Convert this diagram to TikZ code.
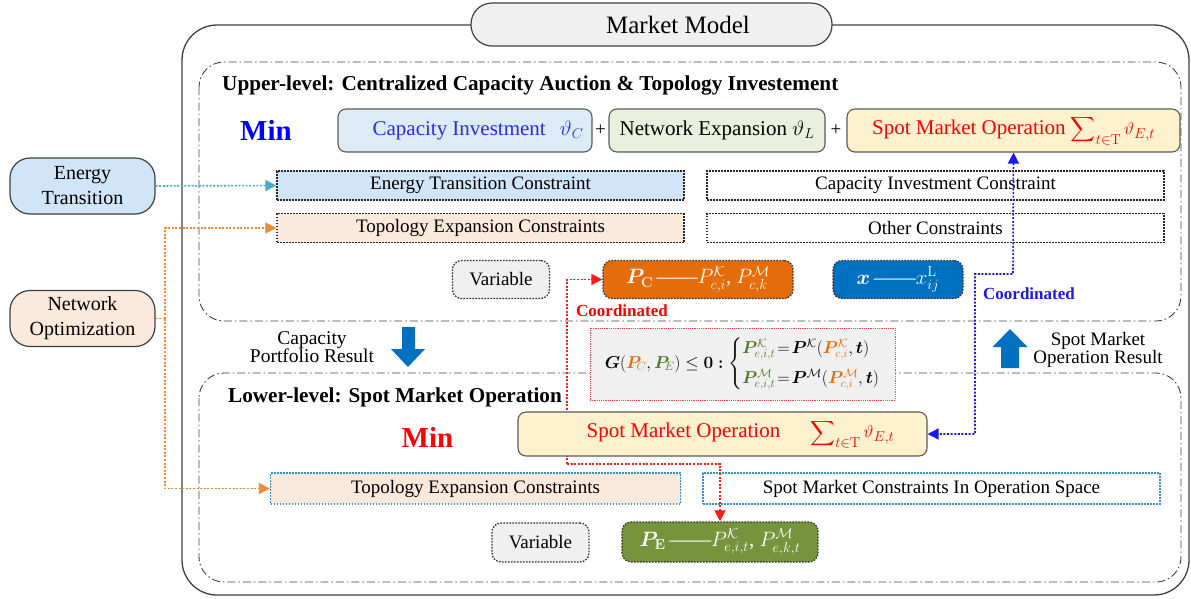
\documentclass[tikz,border=0pt]{standalone}
\usepackage{amsmath}
\usepackage[no-math]{fontspec}
\setmainfont{Liberation Serif}
\usepackage{bm}
\usetikzlibrary{arrows.meta}

\definecolor{capfill}{HTML}{DCEBF4}
\definecolor{netfill}{HTML}{EBEFDD}
\definecolor{spotfill}{HTML}{FEF1CE}
\definecolor{etfill}{HTML}{D0E5F8}
\definecolor{topofill}{HTML}{FBE9DB}
\definecolor{pcorange}{HTML}{E46C0A}
\definecolor{xblue}{HTML}{0070C0}
\definecolor{peolive}{HTML}{77933C}
\definecolor{pegreen}{HTML}{4F7A28}
\definecolor{tealarrow}{HTML}{4BACC6}
\definecolor{orangelink}{HTML}{F08A36}
\definecolor{lowborder}{HTML}{3B8FD0}
\definecolor{capblue}{HTML}{2A2AF5}
\definecolor{tabgray}{HTML}{F0F0F0}
\definecolor{redlink}{HTML}{FF1A1A}
\definecolor{bluelink}{HTML}{1A1AF0}
\definecolor{minblue}{HTML}{0000FF}

\tikzset{
  objbox/.style={draw=black!65, line width=1.1pt, rounded corners=8pt,
    minimum height=43pt, inner sep=0pt, font=\fontsize{21}{24}\selectfont},
  conbox/.style={draw=black!85, dash pattern=on 1.6pt off 1.4pt, line width=1.3pt,
    minimum height=29pt, inner sep=0pt, font=\fontsize{19}{22}\selectfont},
  lowbox/.style={conbox, draw=lowborder, minimum height=31pt},
  varbox/.style={draw=black!80, dash pattern=on 1.6pt off 1.4pt, line width=1.3pt,
    rounded corners=9pt, minimum height=38pt, inner sep=0pt,
    font=\fontsize{19}{22}\selectfont},
  levelframe/.style={draw=black!75, line width=0.9pt, rounded corners=25pt,
    dash pattern=on 8pt off 3pt on 1.5pt off 3pt},
  srcbox/.style={draw=black!75, line width=1.2pt, rounded corners=20pt,
    minimum width=145pt, minimum height=56pt, align=center, inner sep=0pt,
    font=\fontsize{20}{25}\selectfont},
  plain/.style={inner sep=0pt, font=\fontsize{19.5}{18}\selectfont, align=center},
  leveltitle/.style={anchor=west, inner sep=0pt, font=\bfseries\fontsize{21.2}{24}\selectfont},
  mintext/.style={inner sep=0pt, font=\bfseries\fontsize{29}{32}\selectfont},
  coordtext/.style={inner sep=0pt, font=\bfseries\fontsize{17}{19}\selectfont},
  link/.style={dash pattern=on 2pt off 1.6pt, line width=1.6pt},
  tip/.style={-{Triangle[length=11pt,width=11pt]}},
  twotip/.style={{Triangle[length=11pt,width=11pt]}-{Triangle[length=11pt,width=11pt]}},
}

\newcommand{\costsum}{{\fontsize{19}{22}\selectfont$\displaystyle\sum\nolimits_{t\in\mathrm{T}}\vartheta_{E,t}$}}

\begin{document}
\begin{tikzpicture}[x=1pt,y=-1pt]
\useasboundingbox (0,0) rectangle (1191,598);

% outer frame and its tab
\draw[black!75, line width=1.3pt, rounded corners=35pt] (182,25) rectangle (1189,595);
\node[draw=black!75, line width=1.2pt, fill=tabgray, rounded corners=21pt,
  minimum width=361pt, minimum height=43pt, inner sep=0pt,
  font=\fontsize{25}{28}\selectfont] (tab) at (651.5,24.5) {\hspace{53pt}Market Model};

% level frames
\draw[levelframe] (199,62) rectangle (1181,321);
\draw[levelframe] (199,373) rectangle (1181,582);

% ---------- upper level ----------
\node[leveltitle] (uptitle) at (222,85) {Upper-level: Centralized Capacity Auction \& Topology Investement};
\node[mintext, text=minblue] (minup) at (266,130) {Min};

\node[objbox, fill=capfill, text=capblue, minimum width=254pt] (cap) at (465,130.5)
  {\hspace{26pt}Capacity Investment\hspace{14pt}$\vartheta_C$};
\node[inner sep=0pt, font=\fontsize{19}{22}\selectfont] (plus1) at (600.5,130.5) {+};
\node[objbox, fill=netfill, minimum width=216pt] (net) at (717,130.5)
  {Network Expansion $\vartheta_L$};
\node[inner sep=0pt, font=\fontsize{19}{22}\selectfont] (plus2) at (836,130.5) {+};
\node[objbox, fill=spotfill, text=red, minimum width=333pt] (spot) at (1013.5,130.5)
  {Spot Market Operation \costsum};

\node[conbox, fill=etfill, minimum width=407pt] (etc) at (480.5,185.5) {Energy Transition Constraint};
\node[conbox, minimum width=457pt] (cic) at (935.5,185.5) {Capacity Investment Constraint};
\node[conbox, fill=topofill, minimum width=407pt] (tec) at (480.5,228) {Topology Expansion Constraints};
\node[conbox, minimum width=457pt] (oc) at (935.5,228) {Other Constraints};

\node[varbox, fill=tabgray, minimum width=97pt] (var1) at (501,279.5) {Variable};
\node[varbox, fill=pcorange, text=white, minimum width=190pt] (pc) at (698,279.5)
  {\fontsize{20.5}{24}\selectfont$\bm{P}_{\mathbf{C}}$\,\textemdash\textemdash$P^{\mathcal{K}}_{c,i}$, $P^{\mathcal{M}}_{c,k}$};
\node[varbox, fill=xblue, text=white, minimum width=130pt] (xv) at (898,279.5)
  {\fontsize{21}{24}\selectfont$\bm{x}$\,\textemdash\textemdash$x^{\mathrm{L}}_{ij}$};

% external drivers
\node[srcbox, fill=etfill] (et) at (82.5,186) {Energy\\Transition};
\node[srcbox, fill=topofill] (no) at (82.5,318.5) {Network\\Optimization};

% ---------- between the levels ----------
\node[plain] (cpr) at (312,347) {Capacity\\Portfolio Result};
\fill[xblue] (402,327) -- (415,327) -- (415,349) -- (425,349) -- (408,367)
  -- (391,349) -- (402,349) -- cycle;
\node[plain, font=\fontsize{19}{18}\selectfont] (smr) at (1098,350) {Spot Market\\Operation Result};
\fill[xblue] (1001,368) -- (1019,368) -- (1019,347) -- (1027.5,347) -- (1010,329)
  -- (992.5,347) -- (1001,347) -- cycle;

\node[draw=red!75, dash pattern=on 1.2pt off 1pt, line width=1pt, fill=tabgray,
  minimum width=305pt, minimum height=72pt, inner sep=0pt,
  font=\fontsize{18.5}{22}\selectfont] (gbox) at (742.5,364)
  {$\bm{G}(\textcolor{pcorange}{\bm{P}_{\!C}},\textcolor{pegreen}{\bm{P}_{\!E}})\le\mathbf{0}\bm{:}
   \left\{\begin{array}{@{}l@{}}
   \textcolor{pegreen}{\bm{P}^{\mathcal{K}}_{e,i,t}}\!=\!\bm{P}^{\mathcal{K}}(\textcolor{pcorange}{\bm{P}^{\mathcal{K}}_{c,i}},\bm{t})\\[8pt]
   \textcolor{pegreen}{\bm{P}^{\mathcal{M}}_{e,i,t}}\!=\!\bm{P}^{\mathcal{M}}(\textcolor{pcorange}{\bm{P}^{\mathcal{M}}_{c,i}},\bm{t})
   \end{array}\right.$};

\node[coordtext, text=red] (coordr) at (622,311) {Coordinated};
\node[coordtext, text=bluelink] (coordb) at (1029,294) {Coordinated};

% ---------- lower level ----------
\node[leveltitle] (lowtitle) at (228,397) {Lower-level: Spot Market Operation};
\node[mintext, text=red] (minlow) at (427.5,437) {Min};

\node[lowbox, fill=topofill, minimum width=410pt] (tec2) at (475.5,488.5) {Topology Expansion Constraints};
\node[lowbox, minimum width=457pt] (smc) at (931.5,488.5) {Spot Market Constraints In Operation Space};

\node[varbox, fill=tabgray, minimum width=97pt, minimum height=39pt] (var2) at (540.5,542.5) {Variable};
\node[varbox, fill=peolive, text=white, minimum width=196pt, minimum height=40pt] (pe) at (720,542)
  {\fontsize{21}{24}\selectfont$\bm{P}_{\mathbf{E}}$\,\textemdash\textemdash$P^{\mathcal{K}}_{e,i,t}$, $P^{\mathcal{M}}_{e,k,t}$};

% coordination of P_C and P_E (runs behind the lower objective box)
\coordinate (rj) at (567,464);
\draw[link, redlink, tip] (rj) |- (pc.west);
\draw[link, redlink, tip] (rj) -| (pe.north);

\node[objbox, fill=spotfill, text=red, minimum width=409pt, minimum height=44pt] (lspot) at (722.5,434)
  {\hspace{36pt}Spot Market Operation\hspace{30pt}\costsum};

% coordination of the two spot market objectives
\coordinate (b1) at (1013,274);
\coordinate (b2) at (975,274);
\draw[link, bluelink, twotip] (spot.south) -- (b1) -- (b2) |- (lspot.east);

% drivers feeding the constraints
\draw[link, tealarrow, tip] (et.east) -- (etc.west);
\coordinate (ob) at (165,318.5);
\draw[link, orangelink] (no.east) -- (ob);
\draw[link, orangelink, tip] (ob) |- (tec.west);
\draw[link, orangelink, tip] (ob) |- (tec2.west);
\end{tikzpicture}
\end{document}
